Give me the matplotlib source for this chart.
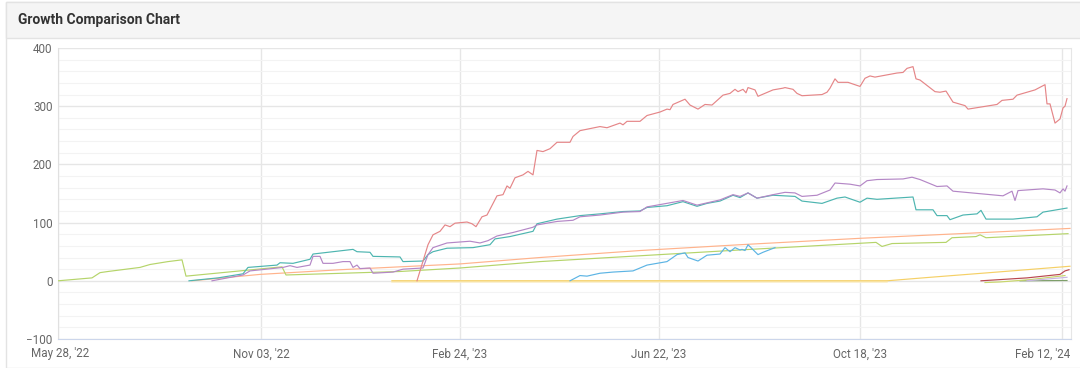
import matplotlib.pyplot as plt
from matplotlib.patches import Rectangle
from matplotlib.ticker import MultipleLocator
import matplotlib.transforms as mtransforms

plt.rcParams['font.family'] = ['Roboto', 'DejaVu Sans']

# x axis is an ordinal (session) index, ticks are labelled with dates
tick_pos = [0, 101.5, 201, 300.5, 401, 502]
tick_labels = ["May 28, '22", "Nov 03, '22", "Feb 24, '23", "Jun 22, '23", "Oct 18, '23", "Feb 12, '24"]

# series
red_x = [179.5, 185, 187.5, 191, 193.5, 196, 198.5, 204.5, 207, 209, 212, 214.5, 219.5, 222.5, 224.5, 226,
         228.5, 232.5, 235, 237.5, 239.5, 242.5, 246, 249.5, 256, 257.5, 261, 271, 274.5, 281, 282.5, 284.5,
         291, 294.5, 301, 304.5, 306, 307.5, 313.5, 316, 320, 323.5, 327, 332.5, 336, 338.5, 340, 342.5, 344,
         345, 348.5, 350, 357.5, 362.5, 363.5, 367.5, 369.5, 372, 382, 384.5, 386, 388.5, 390, 395, 401,
         403.5, 406, 408.5, 419.5, 422.5, 424.5, 427.5, 429, 431, 438.5, 441, 444, 447.5, 453.5, 455, 469.5,
         472, 477.5, 479.5, 488.5, 493.5, 494.5, 496, 498.5, 501, 502.5, 503.5, 504.5]
red_y = [0, 62, 79, 85, 96, 93, 99, 101, 98, 93, 110, 113, 146, 148, 163, 159,
         177, 182, 188, 182, 224, 222, 227, 238, 238, 248, 258, 265, 263, 271, 268, 274,
         274, 284, 290, 295, 294, 303, 312, 302, 295, 303, 302, 319, 322, 329, 325, 329, 323,
         332, 328, 317, 328, 331, 332, 329, 322, 318, 320, 324, 331, 347, 341, 341, 334,
         348, 352, 350, 357, 358, 365, 368, 347, 345, 325, 324, 326, 307, 301, 295, 303,
         310, 312, 319, 328, 337, 304, 304, 271, 278, 297, 300, 313]

purple_x = [77, 92.5, 96, 112.5, 116, 119.5, 126, 127.5, 131, 132.5, 137.5, 142.5, 146, 147.5, 149.5, 151,
            156, 157.5, 167.5, 172.5, 182.5, 185, 187.5, 194.5, 206, 211, 215, 219.5, 227.5, 237.5, 239.5,
            249.5, 257.5, 261, 271, 282.5, 291, 294.5, 312.5, 319.5, 331, 337.5, 341, 345, 349.5, 357.5,
            363.5, 368.5, 372, 379.5, 386, 388.5, 396, 401, 404.5, 409.5, 422.5, 427, 431, 439.5, 444.5,
            447.5, 472.5, 477, 478.5, 480, 492.5, 498.5, 501, 502.5, 503.5, 504.5]
purple_y = [0, 10, 17, 23, 26, 23, 27, 42, 42, 30, 30, 33, 33, 23, 27, 21,
            22, 13, 15, 20, 22, 45, 57, 65, 68, 65, 69, 77, 83, 92, 96,
            102, 104, 110, 113, 118, 119, 127, 138, 130, 139, 148, 145, 151, 142, 148,
            152, 151, 145, 147, 156, 168, 166, 163, 172, 174, 175, 178, 174, 162, 163,
            154, 146, 154, 138, 155, 158, 156, 151, 158, 154, 163]

teal_x = [65.5, 80, 92.5, 95, 109.5, 111, 117.5, 126, 127.5, 147.5, 149.5, 156, 157.5, 171, 172.5, 182.5,
          185, 187.5, 194.5, 207.5, 216, 218.5, 226, 237.5, 239.5, 249.5, 261, 271, 282.5, 291, 294.5,
          304.5, 312.5, 319.5, 324.5, 331, 337.5, 341, 345, 349.5, 357.5, 368.5, 372, 382, 389.5, 393.5,
          401, 404.5, 409.5, 427.5, 429, 437.5, 439.5, 444.5, 446, 452.5, 459.5, 461.5, 464, 477.5, 489.5,
          492.5, 504.5]
teal_y = [0, 5, 12, 23, 27, 31, 30, 37, 46, 54, 50, 49, 42, 41, 33, 34,
          45, 50, 56, 57, 62, 72, 76, 85, 98, 106, 112, 115, 119, 120, 126,
          129, 136, 128, 133, 137, 147, 143, 151, 142, 147, 145, 137, 133, 142, 144,
          135, 142, 140, 144, 122, 122, 112, 112, 105, 113, 115, 121, 106, 106, 110,
          118, 125]

orange_x = [67, 101, 141, 171, 201, 241, 291, 341, 401, 451, 506]
orange_y = [0, 11, 19, 24, 29, 40, 52, 62, 73, 81, 90]

lime_x = [0, 17, 21, 25, 41, 46, 55, 62, 64, 112, 114, 171, 201, 241, 341, 409, 412, 417, 444, 447,
          459, 461, 464, 505]
lime_y = [0, 5, 14, 16, 23, 28, 33, 36, 8, 24, 10, 16, 22, 33, 53, 66, 59, 64, 66, 74,
          76, 79, 74, 81]

blue_x = [256, 261, 264.5, 271, 277.5, 287.5, 291, 294.5, 304.5, 309.5, 313.5, 315, 320, 324.5, 331,
          333.5, 336, 338.5, 341, 342, 343.5, 345, 350, 352.5, 358.5]
blue_y = [0, 9, 8, 13, 15, 17, 22, 27, 33, 45, 48, 40, 34, 44, 46,
          57, 50, 57, 53, 54, 52, 62, 45, 49, 57]

pale_x = [167, 414]
pale_y = [0, 0]

gold_x = [167, 414.5, 436, 469.5, 506]
gold_y = [0, 0, 6, 15, 25]

maroon_x = [461.5, 484.5, 501, 503.5, 505.5]
maroon_y = [0, 5, 11, 17, 19]

khaki_x = [463.5, 471, 486, 503.5]
khaki_y = [-3, -2, 2, 9]

lavender_x = [484.5, 504.5]
lavender_y = [0, 6]

olive_x = [481, 504.5]
olive_y = [0, 0.5]

series = [
    (pale_x, pale_y, '#fbeec6', 1.8),
    (gold_x, gold_y, '#f5d066', 0.85),
    (orange_x, orange_y, '#ffb38c', 0.85),
    (lime_x, lime_y, '#b5d46a', 0.85),
    (blue_x, blue_y, '#5cb4e4', 0.85),
    (teal_x, teal_y, '#4db5b0', 0.85),
    (purple_x, purple_y, '#b487c6', 0.85),
    (red_x, red_y, '#e58688', 0.85),
    (olive_x, olive_y, '#7e9f6a', 0.85),
    (khaki_x, khaki_y, '#c9d66c', 0.85),
    (lavender_x, lavender_y, '#c8b6e2', 0.85),
    (maroon_x, maroon_y, '#b9474f', 0.85),
]

fig = plt.figure(figsize=(10.8, 3.68), dpi=100)
W, H = 1080, 368

# card frame and header band (kept behind the axes)
fig.patches.append(Rectangle((6 / W, 0), 1.0, (H - 2) / H, transform=fig.transFigure,
                             facecolor='white', edgecolor='#e3e3e3', lw=1.0, zorder=-10))
fig.patches.append(Rectangle((6 / W, (H - 38) / H), 1.0, 36 / H, transform=fig.transFigure,
                             facecolor='#f5f5f5', edgecolor='#e3e3e3', lw=1.0, zorder=-9))
fig.text(18 / W, 1 - 20 / H, 'Growth Comparison Chart', fontsize=10, fontweight='bold',
         color='#333333', va='center', ha='left')

ax = fig.add_axes([58 / W, 29 / H, (1071 - 58) / W, (339 - 48) / H])
ax.set_zorder(5)
ax.set_facecolor('white')

for xs, ys, c, lw in series:
    ax.plot(xs, ys, color=c, lw=lw, solid_joinstyle='round', zorder=3)

ax.set_xlim(0, 506.5)
ax.set_ylim(-100, 400)
ax.yaxis.set_major_locator(MultipleLocator(100))
ax.yaxis.set_minor_locator(MultipleLocator(20))
ax.set_xticks(tick_pos)
ax.set_xticklabels(tick_labels)

ax.grid(True, which='major', axis='y', color='#e6e6e6', lw=1.0, zorder=0)
ax.grid(True, which='minor', axis='y', color='#f3f3f3', lw=0.8, zorder=0)
ax.grid(True, which='major', axis='x', color='#e6e6e6', lw=1.0, zorder=0)
ax.tick_params(which='both', length=0)
ax.tick_params(axis='y', pad=4, labelsize=8.4, labelcolor='#666666')
ax.tick_params(axis='x', pad=6, labelsize=8.4, labelcolor='#666666')

ax.spines['top'].set_visible(False)
ax.spines['left'].set_color('#e0e0e0')
ax.spines['right'].set_color('#e6e6e6')
ax.spines['bottom'].set_color('#ccd6eb')

# keep the outer labels inside the card like the reference
labels = ax.get_xticklabels()
labels[0].set_transform(labels[0].get_transform() + mtransforms.ScaledTranslation(2 / 100, 0, fig.dpi_scale_trans))
labels[-1].set_transform(labels[-1].get_transform() + mtransforms.ScaledTranslation(-19 / 100, 0, fig.dpi_scale_trans))

fig.savefig('out.png', dpi=100)
